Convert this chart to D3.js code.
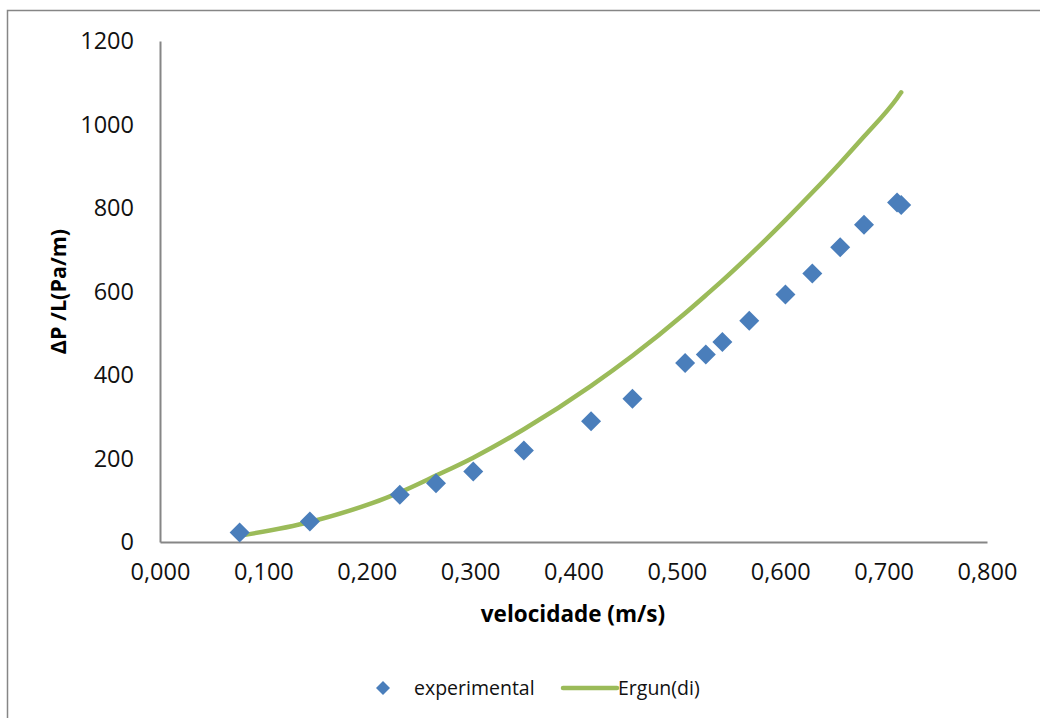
<!DOCTYPE html>
<html>
<head>
<meta charset="utf-8">
<script src="https://cdn.jsdelivr.net/npm/d3@7"></script>
<style>
  html, body { margin: 0; padding: 0; background: #fff; }
  svg { display: block; font-family: "Open Sans", "DejaVu Sans", sans-serif; }
</style>
</head>
<body>
<svg id="chart" width="1040" height="718"></svg>
<script>
// Measured velocities (m/s) and pressure drop per length (Pa/m)
const velocity = [0.077, 0.145, 0.232, 0.267, 0.303, 0.352, 0.417, 0.457, 0.508,
                  0.528, 0.544, 0.570, 0.605, 0.631, 0.658, 0.681, 0.713, 0.717];
const dpExperimental = [23, 49, 113, 141, 169, 219, 289, 343, 429,
                        449, 479, 530, 593, 643, 706, 760, 813, 807];
// Ergun equation prediction at the same velocities
const dpErgun = [15, 48, 119, 159, 202, 270, 374, 446, 548,
                 591, 626, 686, 771, 837, 908, 971, 1063, 1077];

const xTicks = [0, 0.1, 0.2, 0.3, 0.4, 0.5, 0.6, 0.7, 0.8];
const yTicks = [0, 200, 400, 600, 800, 1000, 1200];

const svg = d3.select("#chart");
const plotLeft = 160, plotRight = 987, plotTop = 41, plotBottom = 542;

const x = d3.scaleLinear().domain([0, 0.8]).range([plotLeft, plotRight]);
const y = d3.scaleLinear().domain([0, 1200]).range([plotBottom, plotTop]);

const blue = "#4a7ebb", green = "#9bbb59", axisGrey = "#868686";

// outer chart frame
svg.append("rect")
  .attr("x", 7.5).attr("y", 10.5)
  .attr("width", 1040).attr("height", 720)
  .attr("fill", "none").attr("stroke", axisGrey).attr("stroke-width", 1.5);

// y axis
const yAxis = svg.append("g")
  .attr("transform", `translate(${plotLeft},0)`)
  .call(d3.axisLeft(y).tickValues(yTicks).tickSize(0).tickPadding(26)
        .tickFormat(d => String(d)));
yAxis.select(".domain").attr("stroke", axisGrey).attr("stroke-width", 2);
yAxis.selectAll("text").attr("font-size", 23.5).attr("fill", "#111")
  .attr("font-family", "'Open Sans', sans-serif");

// x axis
const fmtX = d => d3.format(".3f")(d).replace(".", ",");
const xAxis = svg.append("g")
  .attr("transform", `translate(0,${plotBottom})`)
  .call(d3.axisBottom(x).tickValues(xTicks).tickSize(0).tickPadding(21)
        .tickFormat(fmtX));
xAxis.select(".domain").attr("stroke", axisGrey).attr("stroke-width", 2);
xAxis.selectAll("text").attr("font-size", 23.5).attr("fill", "#111")
  .attr("font-family", "'Open Sans', sans-serif");

// axis titles
svg.append("text")
  .attr("x", (plotLeft + plotRight) / 2 - 0.5).attr("y", 622)
  .attr("text-anchor", "middle").attr("font-size", 22.5).attr("font-weight", "bold")
  .text("velocidade (m/s)");

svg.append("text")
  .attr("transform", `translate(66,${(plotTop + plotBottom) / 2}) rotate(-90)`)
  .attr("text-anchor", "middle").attr("font-size", 21.5).attr("font-weight", "bold")
  .text("ΔP /L(Pa/m)");

// Ergun curve
const ergunPts = velocity.map((v, i) => [v, dpErgun[i]]);
svg.append("path")
  .datum(ergunPts)
  .attr("fill", "none").attr("stroke", green).attr("stroke-width", 4.5)
  .attr("stroke-linecap", "round").attr("stroke-linejoin", "round")
  .attr("d", d3.line().x(d => x(d[0])).y(d => y(d[1])).curve(d3.curveMonotoneX));

// experimental points as diamonds
const diamond = d3.symbol().type(d3.symbolSquare).size(200);
svg.append("g").selectAll("path")
  .data(velocity.map((v, i) => [v, dpExperimental[i]]))
  .join("path")
  .attr("d", diamond)
  .attr("fill", blue)
  .attr("transform", d => `translate(${x(d[0])},${y(d[1])}) rotate(45)`);

// legend
const ly = 688;
svg.append("path")
  .attr("d", d3.symbol().type(d3.symbolSquare).size(98))
  .attr("fill", blue)
  .attr("transform", `translate(383,${ly}) rotate(45)`);
svg.append("text")
  .attr("x", 414).attr("y", ly).attr("dy", "0.35em")
  .attr("font-size", 19.5).attr("fill", "#111").text("experimental");
svg.append("line")
  .attr("x1", 563).attr("x2", 617).attr("y1", ly).attr("y2", ly)
  .attr("stroke", green).attr("stroke-width", 4.5).attr("stroke-linecap", "round");
svg.append("text")
  .attr("x", 618).attr("y", ly).attr("dy", "0.35em")
  .attr("font-size", 19.5).attr("fill", "#111").text("Ergun(di)");
</script>
</body>
</html>
